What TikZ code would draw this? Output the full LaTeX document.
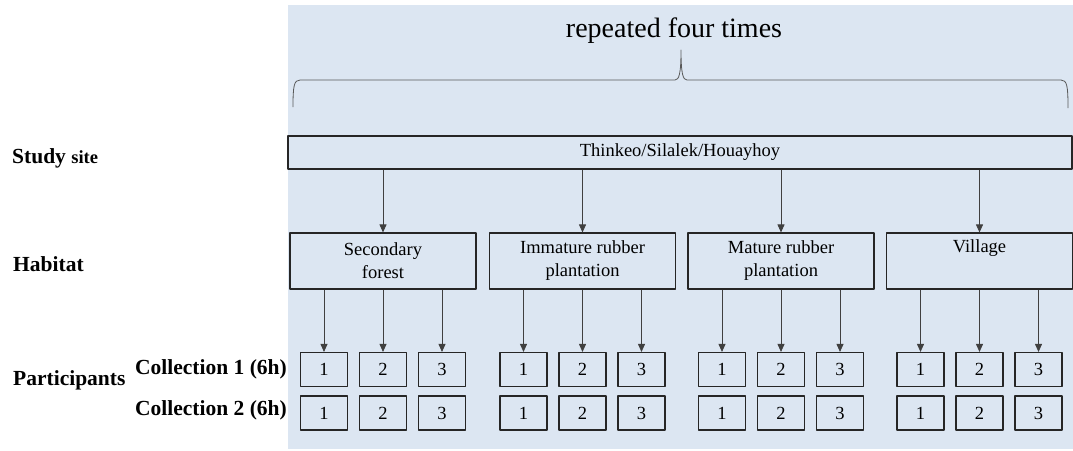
\documentclass[tikz,border=0pt]{standalone}
\usepackage{fontspec}
\setmainfont{Liberation Serif}
\usetikzlibrary{arrows.meta}
\definecolor{bgblue}{HTML}{DCE6F2}
\definecolor{bracegray}{HTML}{595959}
\tikzset{
  boxtext/.style={font=\fontsize{18.5}{23}\selectfont},
  sitebox/.style={boxtext, draw=black!85, line width=1.1pt, minimum width=784pt, minimum height=33pt, inner sep=0pt},
  habbox/.style={boxtext, draw=black!85, line width=1.1pt, minimum width=186pt, minimum height=56pt, inner sep=0pt, align=center},
  partbox/.style={boxtext, draw=black!85, line width=1.1pt, minimum width=47pt, minimum height=34pt, inner sep=0pt},
  lbl/.style={inner sep=0pt, font=\bfseries\fontsize{21.5}{24}\selectfont},
  arr/.style={-{Triangle[length=8pt,width=7pt]}, line width=0.8pt, draw=black!75}
}
\begin{document}
\begin{tikzpicture}[x=1pt, y=-1pt, line join=round]
\useasboundingbox (0,0) rectangle (1073,450);
\fill[bgblue] (288,5) rectangle (1073,449);
% brace
\node[font=\fontsize{28}{30}\selectfont, inner sep=0pt, anchor=base] (title) at (674,37) {repeated four times};
\draw[bracegray, line width=0.8pt] (293,107) .. controls (293,86) and (294,80) .. (300,80) -- (675,80)
  .. controls (679,80) and (681,74) .. (681,50) .. controls (681,74) and (683,80) .. (687,80) -- (1061,80)
  .. controls (1067,80) and (1068,86) .. (1068,108);
\node[sitebox] (site) at (680,152.5) {Thinkeo/Silalek/Houayhoy};
\foreach \n/\x/\t in {sf/383/{Secondary\\forest}, ir/582.5/{Immature rubber\\plantation},
                      mr/781/{Mature rubber\\plantation}, vi/979.5/{Village\\\strut}}{
  \node[habbox] (\n) at (\x,261) {\t};
  \draw[arr] (site.south -| \n.north) -- (\n.north);
  \foreach \k/\dx in {1/-59,2/0,3/59}{
    \node[partbox] (\n1\k) at (\x+\dx,369.5) {\k};
    \node[partbox] (\n2\k) at (\x+\dx,413) {\k};
    \draw[arr] (\n.south -| \n1\k.north) -- (\n1\k.north);
  }
}
% row labels
\node[lbl, anchor=base west] (lsite) at (12,163) {Study \fontsize{18.5}{20}\selectfont site};
\node[lbl, anchor=base west] (lhab) at (13,271.5) {Habitat};
\node[lbl, anchor=base east] (lcoll1) at (287,374) {Collection 1 (6h)};
\node[lbl, anchor=base west] (lpart) at (13,385) {Participants};
\node[lbl, anchor=base east] (lcoll2) at (287,415.5) {Collection 2 (6h)};
\end{tikzpicture}
\end{document}
